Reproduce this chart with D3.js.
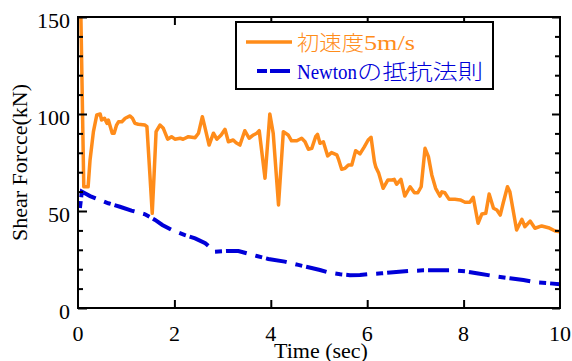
<!DOCTYPE html>
<html><head><meta charset="utf-8">
<script src="https://cdn.jsdelivr.net/npm/d3@7/dist/d3.min.js"></script>
<style>
html,body{margin:0;padding:0;background:#fff;}
svg{display:block;}
</style>
</head><body>
<svg id="chart" width="572" height="361"></svg>
<script>
// ---- data ----
const orangeT = [0.05,0.12,0.21,0.25,0.32,0.39,0.46,0.49,0.55,0.60,0.63,0.66,0.71,0.75,0.80,0.84,0.91,0.98,1.08,1.13,1.18,1.25,1.39,1.43,1.49,1.54,1.58,1.62,1.70,1.77,1.86,1.94,2.01,2.12,2.18,2.29,2.43,2.50,2.58,2.63,2.72,2.81,2.88,2.97,3.05,3.12,3.22,3.28,3.36,3.46,3.55,3.64,3.71,3.76,3.88,3.98,4.05,4.16,4.26,4.36,4.43,4.54,4.64,4.71,4.78,4.85,4.93,4.97,5.02,5.09,5.18,5.26,5.37,5.41,5.47,5.54,5.61,5.68,5.76,5.85,5.94,6.02,6.08,6.15,6.18,6.24,6.33,6.43,6.51,6.56,6.61,6.70,6.78,6.89,6.98,7.05,7.12,7.20,7.27,7.34,7.42,7.51,7.55,7.61,7.70,7.82,7.93,8.03,8.13,8.20,8.30,8.38,8.46,8.53,8.62,8.69,8.76,8.82,8.91,8.96,9.10,9.21,9.27,9.38,9.48,9.62,9.76,9.90,10.0];
const orangeV = [165,62.5,62.5,76.3,90.9,99.5,100,96.9,97.8,95.2,96.9,94.3,90.1,90.1,94.3,96,96,97.8,99,97.8,95.2,94.7,94.3,93.5,69.4,48.8,69.4,90.9,94.3,92.6,87,88.3,87,87.5,87,88.3,87.8,90.1,98.6,93.5,84,90.1,87,89.2,92.1,85.7,86.6,85.2,84,91.4,87.5,89.2,90.1,91.4,66.9,100,90.1,53.1,90.9,89.2,86.2,86.2,87.5,85.7,81.8,82.3,88.3,89.5,84.9,85.7,78.4,80.1,78.9,76.3,71.5,72,73.7,73.7,81.1,79.4,83.1,86.6,88,75.4,72.5,69.4,61.7,66,66,66.3,63.8,66.3,57.7,62.5,59.4,59.4,62.5,82.3,78,68.6,61.7,57.7,59.9,59.4,56,56,55.7,54.5,54.5,57.1,43.7,48.5,48.8,58.8,51.4,50.5,47.9,54,62.5,59.9,40.2,45.7,41.9,44.8,41.1,42.3,41.4,39.7,39.3];
const blueT = [0.04,0.08,0.25,0.63,0.87,1.11,1.39,1.60,1.75,1.98,2.22,2.43,2.64,2.84,3.12,3.33,3.46,3.71,3.95,4.29,4.57,4.78,5.02,5.19,5.44,5.64,5.85,6.06,6.30,6.54,6.89,7.16,7.51,7.79,8.03,8.27,8.62,8.96,9.24,9.52,9.79,10.0];
const blueV = [51.5,60,57.7,54,52.2,50.2,48.3,45.4,42.8,39.8,37.6,35.9,33.4,29,29.4,29.4,28.5,26.8,25.3,23.9,22.2,21,19.6,18.4,17.4,16.9,17,17.5,17.9,18.4,19.1,19.4,19.4,19.4,18.9,17.9,16.5,15.3,14.4,13.2,12.7,12.3];
// legend labels split into runs: [script, text]
const legend1 = [["cjk","初速度"],["lat","5m/s"]];
const legend2 = [["lat","Newton"],["cjk","の抵抗法則"]];
const xTicks = [0,2,4,6,8,10];
const yTicks = [0,50,100,150];
const yMinor = [10,20,30,40,60,70,80,90,110,120,130,140];
const xLabel = "Time (sec)";
const yLabel = "Shear Forcce(kN)";

// ---- layout ----
const SERIF = "Liberation Serif";
const CJK = "Noto Sans CJK JP";
const L = 78, R = 560, T = 17, B = 308;
const orange = "#ff8c1a", blue = "#0000d8";
const svg = d3.select("#chart");
const x = d3.scaleLinear().domain([0,10]).range([L,R]);
const y = d3.scaleLinear().domain([0,150]).range([B,T]);

svg.append("clipPath").attr("id","clip").append("rect")
  .attr("x",L).attr("y",T).attr("width",R-L).attr("height",B-T);

const line = d3.line().x(d=>x(d[0])).y(d=>y(d[1]));
const oData = orangeT.map((t,i)=>[t,orangeV[i]]);
const bData = blueT.map((t,i)=>[t,blueV[i]]);

const g = svg.append("g").attr("clip-path","url(#clip)");
g.append("path").datum(oData).attr("d",line).attr("fill","none")
  .attr("stroke",orange).attr("stroke-width",3.5).attr("stroke-linejoin","round");
g.append("path").datum(bData).attr("d",line).attr("fill","none")
  .attr("stroke",blue).attr("stroke-width",4).attr("stroke-dasharray","7,4,21,9");

// axes (inward ticks)
function styleAxis(sel){
  sel.select(".domain").remove();
  sel.selectAll("line").attr("stroke","#000").attr("stroke-width",2);
  sel.selectAll("text").remove();
}
svg.append("g").attr("transform",`translate(${L},0)`)
  .call(d3.axisLeft(y).tickValues(yTicks).tickSize(-9)).call(styleAxis);
svg.append("g").attr("transform",`translate(${L},0)`)
  .call(d3.axisLeft(y).tickValues(yMinor).tickSize(-5)).call(styleAxis);
svg.append("g").attr("transform",`translate(${R},0)`)
  .call(d3.axisRight(y).tickValues(yTicks).tickSize(-8)).call(styleAxis);
svg.append("g").attr("transform",`translate(${R},0)`)
  .call(d3.axisRight(y).tickValues(yMinor).tickSize(-5)).call(styleAxis);
svg.append("g").attr("transform",`translate(0,${B})`)
  .call(d3.axisBottom(x).tickValues(xTicks.slice(1,-1)).tickSize(-8)).call(styleAxis);
svg.append("g").attr("transform",`translate(0,${T})`)
  .call(d3.axisTop(x).tickValues(xTicks.slice(1,-1)).tickSize(-8)).call(styleAxis);

svg.append("rect").attr("x",L).attr("y",T).attr("width",R-L).attr("height",B-T)
  .attr("fill","none").attr("stroke","#000").attr("stroke-width",2);

// tick labels
const tg = svg.append("g");
tg.selectAll(".yl").data(yTicks).enter().append("text")
  .attr("x",L-8).attr("y",d=>y(d)+11).attr("text-anchor","end")
  .attr("font-family",SERIF).attr("font-size",22).attr("fill","#000").text(d=>d);
tg.selectAll(".xl").data(xTicks).enter().append("text")
  .attr("x",d=>x(d)).attr("y",B+33).attr("text-anchor","middle")
  .attr("font-family",SERIF).attr("font-size",22).attr("fill","#000").text(d=>d);

svg.append("text").attr("x",(L+R)/2+2).attr("y",358).attr("text-anchor","middle")
  .attr("font-family",SERIF).attr("font-size",22).text(xLabel);
svg.append("text").attr("transform",`translate(27,${(T+B)/2}) rotate(-90)`)
  .attr("text-anchor","middle").attr("font-family",SERIF).attr("font-size",22).text(yLabel);

// legend
const lg = svg.append("g");
lg.append("rect").attr("x",236).attr("y",22).attr("width",257).attr("height",67)
  .attr("fill","#fff").attr("stroke","#000").attr("stroke-width",2);
lg.append("line").attr("x1",246).attr("x2",292).attr("y1",42).attr("y2",42)
  .attr("stroke",orange).attr("stroke-width",3.5);
lg.append("line").attr("x1",257).attr("x2",290).attr("y1",71).attr("y2",71)
  .attr("stroke",blue).attr("stroke-width",4).attr("stroke-dasharray","10,3,20,9");
function legendText(runs, widths, yb, color){
  let xp = 297;
  const t = lg.append("text").attr("y",yb).attr("fill",color).attr("font-family",SERIF).attr("font-size",22);
  runs.forEach((r,i)=>{
    const cjk = r[0]==="cjk";
    t.append("tspan").attr("x",xp)
      .attr("font-size",cjk?21:22)
      .attr("font-family",cjk?CJK:SERIF).attr("font-weight",cjk?300:400)
      .attr("textLength",widths[i]).attr("lengthAdjust","spacingAndGlyphs")
      .text(r[1]);
    xp += widths[i];
  });
}
legendText(legend1, [67,51], 50, orange);
legendText(legend2, [60,126], 79, blue);
</script>
</body></html>
